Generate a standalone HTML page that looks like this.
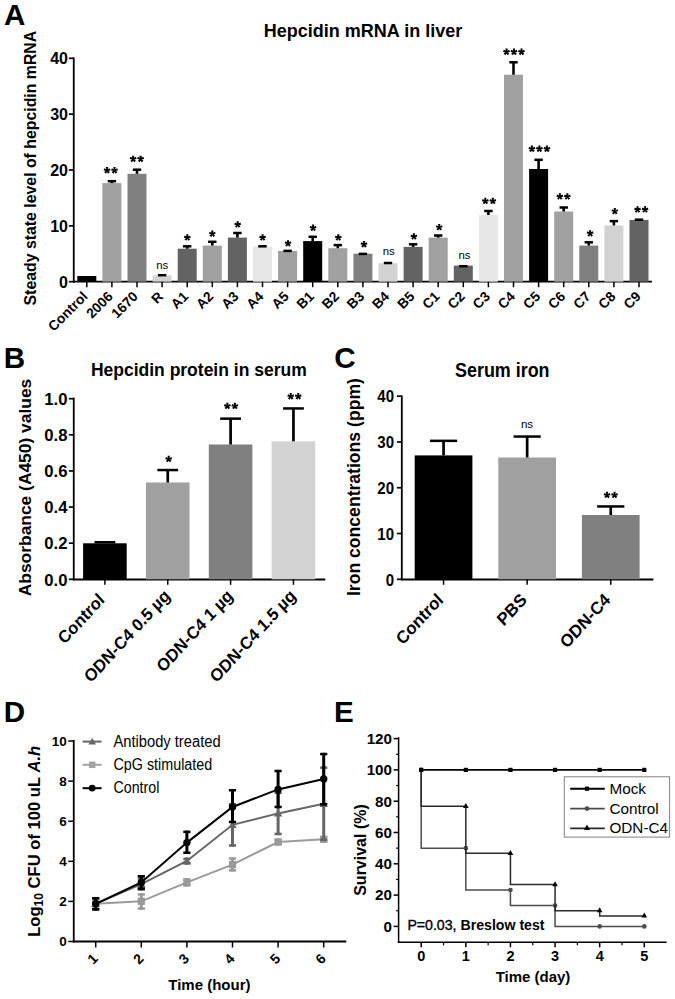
<!DOCTYPE html>
<html><head><meta charset="utf-8"><title>Figure</title>
<style>
html,body{margin:0;padding:0;background:#fff;}
svg{display:block;font-family:"Liberation Sans",sans-serif;}
</style></head><body>
<svg width="675" height="999" viewBox="0 0 675 999" font-family="Liberation Sans, sans-serif">
<rect width="675" height="999" fill="#ffffff"/>
<text x="4" y="24.6"  font-size="29.6" font-weight="bold" text-anchor="start" fill="#000" >A</text>
<text x="3.8" y="367.7"  font-size="29.6" font-weight="bold" text-anchor="start" fill="#000" >B</text>
<text x="334.3" y="367.7"  font-size="29.6" font-weight="bold" text-anchor="start" fill="#000" >C</text>
<text x="3.8" y="721.5"  font-size="29.6" font-weight="bold" text-anchor="start" fill="#000" >D</text>
<text x="334" y="721.6"  font-size="29.6" font-weight="bold" text-anchor="start" fill="#000" >E</text>
<line x1="73.75" y1="57.4" x2="73.75" y2="282.59999999999997" stroke="#000" stroke-width="1.8" stroke-linecap="butt"/>
<line x1="72.85" y1="281.7" x2="652" y2="281.7" stroke="#000" stroke-width="1.8" stroke-linecap="butt"/>
<line x1="68.85" y1="281.7" x2="73.75" y2="281.7" stroke="#000" stroke-width="1.7" stroke-linecap="butt"/>
<text x="67.95" y="287.8"  font-size="16" font-weight="bold" text-anchor="end" fill="#000" >0</text>
<line x1="68.85" y1="225.85" x2="73.75" y2="225.85" stroke="#000" stroke-width="1.7" stroke-linecap="butt"/>
<text x="67.95" y="231.95"  font-size="16" font-weight="bold" text-anchor="end" fill="#000" >10</text>
<line x1="68.85" y1="170.0" x2="73.75" y2="170.0" stroke="#000" stroke-width="1.7" stroke-linecap="butt"/>
<text x="67.95" y="176.1"  font-size="16" font-weight="bold" text-anchor="end" fill="#000" >20</text>
<line x1="68.85" y1="114.14999999999998" x2="73.75" y2="114.14999999999998" stroke="#000" stroke-width="1.7" stroke-linecap="butt"/>
<text x="67.95" y="120.24999999999997"  font-size="16" font-weight="bold" text-anchor="end" fill="#000" >30</text>
<line x1="68.85" y1="58.29999999999998" x2="73.75" y2="58.29999999999998" stroke="#000" stroke-width="1.7" stroke-linecap="butt"/>
<text x="67.95" y="64.39999999999998"  font-size="16" font-weight="bold" text-anchor="end" fill="#000" >40</text>
<text x="363" y="37.2"  font-size="18" font-weight="bold" text-anchor="middle" fill="#000" >Hepcidin mRNA in liver</text>
<text x="0" y="0" transform="translate(36.4,168.1) rotate(-90)" font-size="15.85" font-weight="bold" text-anchor="middle" fill="#000" >Steady state level of hepcidin mRNA</text>
<rect x="77.30" y="276.00" width="19.00" height="5.70" fill="#000000"/>
<line x1="86.8" y1="281.7" x2="86.8" y2="287.2" stroke="#000" stroke-width="1.5" stroke-linecap="butt"/>
<text x="0" y="0" transform="translate(88.5,297.4) rotate(-45)" font-size="13.8" font-weight="bold" text-anchor="end" fill="#000" >Control</text>
<rect x="102.40" y="183.10" width="19.00" height="98.60" fill="#a0a0a0"/>
<line x1="111.9" y1="181.0" x2="111.9" y2="183.1" stroke="#000" stroke-width="2.6" stroke-linecap="butt"/>
<line x1="107.7" y1="181.2" x2="116.10000000000001" y2="181.2" stroke="#000" stroke-width="2.5" stroke-linecap="butt"/>
<line x1="111.9" y1="281.7" x2="111.9" y2="287.2" stroke="#000" stroke-width="1.5" stroke-linecap="butt"/>
<text x="0" y="0" transform="translate(113.64500000000001,297.4) rotate(-45)" font-size="13.8" font-weight="bold" text-anchor="end" fill="#000" >2006</text>
<path d="M107.70,170.35 L108.20,167.10 L105.90,167.10 L106.40,170.35Z M107.25,170.97 L110.50,170.44 L109.79,168.25 L106.85,169.73Z M106.53,170.73 L108.03,173.65 L109.89,172.31 L107.57,169.97Z M106.53,169.97 L104.21,172.31 L106.07,173.65 L107.57,170.73Z M107.25,169.73 L104.31,168.25 L103.60,170.44 L106.85,170.97Z" fill="#000"/>
<path d="M115.20,170.35 L115.70,167.10 L113.40,167.10 L113.90,170.35Z M114.75,170.97 L118.00,170.44 L117.29,168.25 L114.35,169.73Z M114.03,170.73 L115.53,173.65 L117.39,172.31 L115.07,169.97Z M114.03,169.97 L111.71,172.31 L113.57,173.65 L115.07,170.73Z M114.75,169.73 L111.81,168.25 L111.10,170.44 L114.35,170.97Z" fill="#000"/>
<rect x="127.50" y="173.80" width="19.00" height="107.90" fill="#808080"/>
<line x1="137.0" y1="169.5" x2="137.0" y2="173.8" stroke="#000" stroke-width="2.6" stroke-linecap="butt"/>
<line x1="132.8" y1="169.7" x2="141.2" y2="169.7" stroke="#000" stroke-width="2.5" stroke-linecap="butt"/>
<line x1="137.0" y1="281.7" x2="137.0" y2="287.2" stroke="#000" stroke-width="1.5" stroke-linecap="butt"/>
<text x="0" y="0" transform="translate(138.79,297.4) rotate(-45)" font-size="13.8" font-weight="bold" text-anchor="end" fill="#000" >1670</text>
<path d="M133.80,158.95 L134.30,155.70 L132.00,155.70 L132.50,158.95Z M133.35,159.57 L136.60,159.04 L135.89,156.85 L132.95,158.33Z M132.63,159.33 L134.13,162.25 L135.99,160.91 L133.67,158.57Z M132.63,158.57 L130.31,160.91 L132.17,162.25 L133.67,159.33Z M133.35,158.33 L130.41,156.85 L129.70,159.04 L132.95,159.57Z" fill="#000"/>
<path d="M141.30,158.95 L141.80,155.70 L139.50,155.70 L140.00,158.95Z M140.85,159.57 L144.10,159.04 L143.39,156.85 L140.45,158.33Z M140.13,159.33 L141.63,162.25 L143.49,160.91 L141.17,158.57Z M140.13,158.57 L137.81,160.91 L139.67,162.25 L141.17,159.33Z M140.85,158.33 L137.91,156.85 L137.20,159.04 L140.45,159.57Z" fill="#000"/>
<rect x="152.60" y="275.40" width="19.00" height="6.30" fill="#d2d2d2"/>
<line x1="157.90000000000003" y1="275.2" x2="166.3" y2="275.2" stroke="#000" stroke-width="2.5" stroke-linecap="butt"/>
<line x1="162.10000000000002" y1="281.7" x2="162.10000000000002" y2="287.2" stroke="#000" stroke-width="1.5" stroke-linecap="butt"/>
<text x="0" y="0" transform="translate(163.935,297.4) rotate(-45)" font-size="13.8" font-weight="bold" text-anchor="end" fill="#000" >R</text>
<text x="162.2" y="269"  font-size="11.4"  text-anchor="middle" fill="#000" >ns</text>
<rect x="177.70" y="248.70" width="19.00" height="33.00" fill="#636363"/>
<line x1="187.2" y1="246.1" x2="187.2" y2="248.7" stroke="#000" stroke-width="2.6" stroke-linecap="butt"/>
<line x1="183.0" y1="246.29999999999998" x2="191.39999999999998" y2="246.29999999999998" stroke="#000" stroke-width="2.5" stroke-linecap="butt"/>
<line x1="187.2" y1="281.7" x2="187.2" y2="287.2" stroke="#000" stroke-width="1.5" stroke-linecap="butt"/>
<text x="0" y="0" transform="translate(189.07999999999998,297.4) rotate(-45)" font-size="13.8" font-weight="bold" text-anchor="end" fill="#000" >A1</text>
<path d="M187.95,237.55 L188.45,234.30 L186.15,234.30 L186.65,237.55Z M187.50,238.17 L190.75,237.64 L190.04,235.45 L187.10,236.93Z M186.78,237.93 L188.28,240.85 L190.14,239.51 L187.82,237.17Z M186.78,237.17 L184.46,239.51 L186.32,240.85 L187.82,237.93Z M187.50,236.93 L184.56,235.45 L183.85,237.64 L187.10,238.17Z" fill="#000"/>
<rect x="202.80" y="245.60" width="19.00" height="36.10" fill="#a0a0a0"/>
<line x1="212.3" y1="241.6" x2="212.3" y2="245.6" stroke="#000" stroke-width="2.6" stroke-linecap="butt"/>
<line x1="208.10000000000002" y1="241.79999999999998" x2="216.5" y2="241.79999999999998" stroke="#000" stroke-width="2.5" stroke-linecap="butt"/>
<line x1="212.3" y1="281.7" x2="212.3" y2="287.2" stroke="#000" stroke-width="1.5" stroke-linecap="butt"/>
<text x="0" y="0" transform="translate(214.225,297.4) rotate(-45)" font-size="13.8" font-weight="bold" text-anchor="end" fill="#000" >A2</text>
<path d="M212.95,233.75 L213.45,230.50 L211.15,230.50 L211.65,233.75Z M212.50,234.37 L215.75,233.84 L215.04,231.65 L212.10,233.13Z M211.78,234.13 L213.28,237.05 L215.14,235.71 L212.82,233.37Z M211.78,233.37 L209.46,235.71 L211.32,237.05 L212.82,234.13Z M212.50,233.13 L209.56,231.65 L208.85,233.84 L212.10,234.37Z" fill="#000"/>
<rect x="227.90" y="237.60" width="19.00" height="44.10" fill="#636363"/>
<line x1="237.40000000000003" y1="232.8" x2="237.40000000000003" y2="237.6" stroke="#000" stroke-width="2.6" stroke-linecap="butt"/>
<line x1="233.20000000000005" y1="233.0" x2="241.60000000000002" y2="233.0" stroke="#000" stroke-width="2.5" stroke-linecap="butt"/>
<line x1="237.40000000000003" y1="281.7" x2="237.40000000000003" y2="287.2" stroke="#000" stroke-width="1.5" stroke-linecap="butt"/>
<text x="0" y="0" transform="translate(239.37000000000003,297.4) rotate(-45)" font-size="13.8" font-weight="bold" text-anchor="end" fill="#000" >A3</text>
<path d="M238.35,224.55 L238.85,221.30 L236.55,221.30 L237.05,224.55Z M237.90,225.17 L241.15,224.64 L240.44,222.45 L237.50,223.93Z M237.18,224.93 L238.68,227.85 L240.54,226.51 L238.22,224.17Z M237.18,224.17 L234.86,226.51 L236.72,227.85 L238.22,224.93Z M237.90,223.93 L234.96,222.45 L234.25,224.64 L237.50,225.17Z" fill="#000"/>
<rect x="253.00" y="246.60" width="19.00" height="35.10" fill="#e6e6e6"/>
<line x1="258.3" y1="246.29999999999998" x2="266.7" y2="246.29999999999998" stroke="#000" stroke-width="2.5" stroke-linecap="butt"/>
<line x1="262.5" y1="281.7" x2="262.5" y2="287.2" stroke="#000" stroke-width="1.5" stroke-linecap="butt"/>
<text x="0" y="0" transform="translate(264.515,297.4) rotate(-45)" font-size="13.8" font-weight="bold" text-anchor="end" fill="#000" >A4</text>
<path d="M263.25,237.55 L263.75,234.30 L261.45,234.30 L261.95,237.55Z M262.80,238.17 L266.05,237.64 L265.34,235.45 L262.40,236.93Z M262.08,237.93 L263.58,240.85 L265.44,239.51 L263.12,237.17Z M262.08,237.17 L259.76,239.51 L261.62,240.85 L263.12,237.93Z M262.80,236.93 L259.86,235.45 L259.15,237.64 L262.40,238.17Z" fill="#000"/>
<rect x="278.10" y="250.90" width="19.00" height="30.80" fill="#a0a0a0"/>
<line x1="283.40000000000003" y1="250.89999999999998" x2="291.8" y2="250.89999999999998" stroke="#000" stroke-width="2.5" stroke-linecap="butt"/>
<line x1="287.6" y1="281.7" x2="287.6" y2="287.2" stroke="#000" stroke-width="1.5" stroke-linecap="butt"/>
<text x="0" y="0" transform="translate(289.66,297.4) rotate(-45)" font-size="13.8" font-weight="bold" text-anchor="end" fill="#000" >A5</text>
<path d="M288.65,243.45 L289.15,240.20 L286.85,240.20 L287.35,243.45Z M288.20,244.07 L291.45,243.54 L290.74,241.35 L287.80,242.83Z M287.48,243.83 L288.98,246.75 L290.84,245.41 L288.52,243.07Z M287.48,243.07 L285.16,245.41 L287.02,246.75 L288.52,243.83Z M288.20,242.83 L285.26,241.35 L284.55,243.54 L287.80,244.07Z" fill="#000"/>
<rect x="303.20" y="241.10" width="19.00" height="40.60" fill="#000000"/>
<line x1="312.7" y1="236.6" x2="312.7" y2="241.1" stroke="#000" stroke-width="2.6" stroke-linecap="butt"/>
<line x1="308.5" y1="236.79999999999998" x2="316.9" y2="236.79999999999998" stroke="#000" stroke-width="2.5" stroke-linecap="butt"/>
<line x1="312.7" y1="281.7" x2="312.7" y2="287.2" stroke="#000" stroke-width="1.5" stroke-linecap="butt"/>
<text x="0" y="0" transform="translate(314.80499999999995,297.4) rotate(-45)" font-size="13.8" font-weight="bold" text-anchor="end" fill="#000" >B1</text>
<path d="M313.75,227.85 L314.25,224.60 L311.95,224.60 L312.45,227.85Z M313.30,228.47 L316.55,227.94 L315.84,225.75 L312.90,227.23Z M312.58,228.23 L314.08,231.15 L315.94,229.81 L313.62,227.47Z M312.58,227.47 L310.26,229.81 L312.12,231.15 L313.62,228.23Z M313.30,227.23 L310.36,225.75 L309.65,227.94 L312.90,228.47Z" fill="#000"/>
<rect x="328.30" y="248.20" width="19.00" height="33.50" fill="#a0a0a0"/>
<line x1="337.8" y1="244.9" x2="337.8" y2="248.2" stroke="#000" stroke-width="2.6" stroke-linecap="butt"/>
<line x1="333.6" y1="245.1" x2="342.0" y2="245.1" stroke="#000" stroke-width="2.5" stroke-linecap="butt"/>
<line x1="337.8" y1="281.7" x2="337.8" y2="287.2" stroke="#000" stroke-width="1.5" stroke-linecap="butt"/>
<text x="0" y="0" transform="translate(339.95,297.4) rotate(-45)" font-size="13.8" font-weight="bold" text-anchor="end" fill="#000" >B2</text>
<path d="M338.95,237.55 L339.45,234.30 L337.15,234.30 L337.65,237.55Z M338.50,238.17 L341.75,237.64 L341.04,235.45 L338.10,236.93Z M337.78,237.93 L339.28,240.85 L341.14,239.51 L338.82,237.17Z M337.78,237.17 L335.46,239.51 L337.32,240.85 L338.82,237.93Z M338.50,236.93 L335.56,235.45 L334.85,237.64 L338.10,238.17Z" fill="#000"/>
<rect x="353.40" y="253.70" width="19.00" height="28.00" fill="#808080"/>
<line x1="358.70000000000005" y1="253.89999999999998" x2="367.1" y2="253.89999999999998" stroke="#000" stroke-width="2.5" stroke-linecap="butt"/>
<line x1="362.90000000000003" y1="281.7" x2="362.90000000000003" y2="287.2" stroke="#000" stroke-width="1.5" stroke-linecap="butt"/>
<text x="0" y="0" transform="translate(365.095,297.4) rotate(-45)" font-size="13.8" font-weight="bold" text-anchor="end" fill="#000" >B3</text>
<path d="M364.65,244.35 L365.15,241.10 L362.85,241.10 L363.35,244.35Z M364.20,244.97 L367.45,244.44 L366.74,242.25 L363.80,243.73Z M363.48,244.73 L364.98,247.65 L366.84,246.31 L364.52,243.97Z M363.48,243.97 L361.16,246.31 L363.02,247.65 L364.52,244.73Z M364.20,243.73 L361.26,242.25 L360.55,244.44 L363.80,244.97Z" fill="#000"/>
<rect x="378.50" y="263.30" width="19.00" height="18.40" fill="#d2d2d2"/>
<line x1="383.80000000000007" y1="263.0" x2="392.20000000000005" y2="263.0" stroke="#000" stroke-width="2.5" stroke-linecap="butt"/>
<line x1="388.00000000000006" y1="281.7" x2="388.00000000000006" y2="287.2" stroke="#000" stroke-width="1.5" stroke-linecap="butt"/>
<text x="0" y="0" transform="translate(390.24000000000007,297.4) rotate(-45)" font-size="13.8" font-weight="bold" text-anchor="end" fill="#000" >B4</text>
<text x="388.8" y="255.2"  font-size="11.4"  text-anchor="middle" fill="#000" >ns</text>
<rect x="403.60" y="246.90" width="19.00" height="34.80" fill="#636363"/>
<line x1="413.1" y1="244.1" x2="413.1" y2="246.9" stroke="#000" stroke-width="2.6" stroke-linecap="butt"/>
<line x1="408.90000000000003" y1="244.29999999999998" x2="417.3" y2="244.29999999999998" stroke="#000" stroke-width="2.5" stroke-linecap="butt"/>
<line x1="413.1" y1="281.7" x2="413.1" y2="287.2" stroke="#000" stroke-width="1.5" stroke-linecap="butt"/>
<text x="0" y="0" transform="translate(415.385,297.4) rotate(-45)" font-size="13.8" font-weight="bold" text-anchor="end" fill="#000" >B5</text>
<path d="M414.55,236.55 L415.05,233.30 L412.75,233.30 L413.25,236.55Z M414.10,237.17 L417.35,236.64 L416.64,234.45 L413.70,235.93Z M413.38,236.93 L414.88,239.85 L416.74,238.51 L414.42,236.17Z M413.38,236.17 L411.06,238.51 L412.92,239.85 L414.42,236.93Z M414.10,235.93 L411.16,234.45 L410.45,236.64 L413.70,237.17Z" fill="#000"/>
<rect x="428.70" y="237.60" width="19.00" height="44.10" fill="#a0a0a0"/>
<line x1="438.20000000000005" y1="235.3" x2="438.20000000000005" y2="237.6" stroke="#000" stroke-width="2.6" stroke-linecap="butt"/>
<line x1="434.00000000000006" y1="235.5" x2="442.40000000000003" y2="235.5" stroke="#000" stroke-width="2.5" stroke-linecap="butt"/>
<line x1="438.20000000000005" y1="281.7" x2="438.20000000000005" y2="287.2" stroke="#000" stroke-width="1.5" stroke-linecap="butt"/>
<text x="0" y="0" transform="translate(440.53000000000003,297.4) rotate(-45)" font-size="13.8" font-weight="bold" text-anchor="end" fill="#000" >C1</text>
<path d="M439.85,227.25 L440.35,224.00 L438.05,224.00 L438.55,227.25Z M439.40,227.87 L442.65,227.34 L441.94,225.15 L439.00,226.63Z M438.68,227.63 L440.18,230.55 L442.04,229.21 L439.72,226.87Z M438.68,226.87 L436.36,229.21 L438.22,230.55 L439.72,227.63Z M439.40,226.63 L436.46,225.15 L435.75,227.34 L439.00,227.87Z" fill="#000"/>
<rect x="453.80" y="265.60" width="19.00" height="16.10" fill="#636363"/>
<line x1="459.1" y1="266.2" x2="467.5" y2="266.2" stroke="#000" stroke-width="2.5" stroke-linecap="butt"/>
<line x1="463.3" y1="281.7" x2="463.3" y2="287.2" stroke="#000" stroke-width="1.5" stroke-linecap="butt"/>
<text x="0" y="0" transform="translate(465.675,297.4) rotate(-45)" font-size="13.8" font-weight="bold" text-anchor="end" fill="#000" >C2</text>
<text x="464.4" y="258.5"  font-size="11.4"  text-anchor="middle" fill="#000" >ns</text>
<rect x="478.90" y="215.00" width="19.00" height="66.70" fill="#e6e6e6"/>
<line x1="488.40000000000003" y1="210.8" x2="488.40000000000003" y2="215.0" stroke="#000" stroke-width="2.6" stroke-linecap="butt"/>
<line x1="484.20000000000005" y1="211.0" x2="492.6" y2="211.0" stroke="#000" stroke-width="2.5" stroke-linecap="butt"/>
<line x1="488.40000000000003" y1="281.7" x2="488.40000000000003" y2="287.2" stroke="#000" stroke-width="1.5" stroke-linecap="butt"/>
<text x="0" y="0" transform="translate(490.82000000000005,297.4) rotate(-45)" font-size="13.8" font-weight="bold" text-anchor="end" fill="#000" >C3</text>
<path d="M486.00,201.05 L486.50,197.80 L484.20,197.80 L484.70,201.05Z M485.55,201.67 L488.80,201.14 L488.09,198.95 L485.15,200.43Z M484.83,201.43 L486.33,204.35 L488.19,203.01 L485.87,200.67Z M484.83,200.67 L482.51,203.01 L484.37,204.35 L485.87,201.43Z M485.55,200.43 L482.61,198.95 L481.90,201.14 L485.15,201.67Z" fill="#000"/>
<path d="M493.50,201.05 L494.00,197.80 L491.70,197.80 L492.20,201.05Z M493.05,201.67 L496.30,201.14 L495.59,198.95 L492.65,200.43Z M492.33,201.43 L493.83,204.35 L495.69,203.01 L493.37,200.67Z M492.33,200.67 L490.01,203.01 L491.87,204.35 L493.37,201.43Z M493.05,200.43 L490.11,198.95 L489.40,201.14 L492.65,201.67Z" fill="#000"/>
<rect x="504.00" y="74.70" width="19.00" height="207.00" fill="#a0a0a0"/>
<line x1="513.5" y1="62.1" x2="513.5" y2="74.7" stroke="#000" stroke-width="2.6" stroke-linecap="butt"/>
<line x1="509.3" y1="62.300000000000004" x2="517.7" y2="62.300000000000004" stroke="#000" stroke-width="2.5" stroke-linecap="butt"/>
<line x1="513.5" y1="281.7" x2="513.5" y2="287.2" stroke="#000" stroke-width="1.5" stroke-linecap="butt"/>
<text x="0" y="0" transform="translate(515.965,297.4) rotate(-45)" font-size="13.8" font-weight="bold" text-anchor="end" fill="#000" >C4</text>
<path d="M507.15,51.85 L507.65,48.60 L505.35,48.60 L505.85,51.85Z M506.70,52.47 L509.95,51.94 L509.24,49.75 L506.30,51.23Z M505.98,52.23 L507.48,55.15 L509.34,53.81 L507.02,51.47Z M505.98,51.47 L503.66,53.81 L505.52,55.15 L507.02,52.23Z M506.70,51.23 L503.76,49.75 L503.05,51.94 L506.30,52.47Z" fill="#000"/>
<path d="M514.65,51.85 L515.15,48.60 L512.85,48.60 L513.35,51.85Z M514.20,52.47 L517.45,51.94 L516.74,49.75 L513.80,51.23Z M513.48,52.23 L514.98,55.15 L516.84,53.81 L514.52,51.47Z M513.48,51.47 L511.16,53.81 L513.02,55.15 L514.52,52.23Z M514.20,51.23 L511.26,49.75 L510.55,51.94 L513.80,52.47Z" fill="#000"/>
<path d="M522.15,51.85 L522.65,48.60 L520.35,48.60 L520.85,51.85Z M521.70,52.47 L524.95,51.94 L524.24,49.75 L521.30,51.23Z M520.98,52.23 L522.48,55.15 L524.34,53.81 L522.02,51.47Z M520.98,51.47 L518.66,53.81 L520.52,55.15 L522.02,52.23Z M521.70,51.23 L518.76,49.75 L518.05,51.94 L521.30,52.47Z" fill="#000"/>
<rect x="529.10" y="169.00" width="19.00" height="112.70" fill="#000000"/>
<line x1="538.6" y1="159.6" x2="538.6" y2="169.0" stroke="#000" stroke-width="2.6" stroke-linecap="butt"/>
<line x1="534.4" y1="159.79999999999998" x2="542.8000000000001" y2="159.79999999999998" stroke="#000" stroke-width="2.5" stroke-linecap="butt"/>
<line x1="538.6" y1="281.7" x2="538.6" y2="287.2" stroke="#000" stroke-width="1.5" stroke-linecap="butt"/>
<text x="0" y="0" transform="translate(541.11,297.4) rotate(-45)" font-size="13.8" font-weight="bold" text-anchor="end" fill="#000" >C5</text>
<path d="M532.55,148.85 L533.05,145.60 L530.75,145.60 L531.25,148.85Z M532.10,149.47 L535.35,148.94 L534.64,146.75 L531.70,148.23Z M531.38,149.23 L532.88,152.15 L534.74,150.81 L532.42,148.47Z M531.38,148.47 L529.06,150.81 L530.92,152.15 L532.42,149.23Z M532.10,148.23 L529.16,146.75 L528.45,148.94 L531.70,149.47Z" fill="#000"/>
<path d="M540.05,148.85 L540.55,145.60 L538.25,145.60 L538.75,148.85Z M539.60,149.47 L542.85,148.94 L542.14,146.75 L539.20,148.23Z M538.88,149.23 L540.38,152.15 L542.24,150.81 L539.92,148.47Z M538.88,148.47 L536.56,150.81 L538.42,152.15 L539.92,149.23Z M539.60,148.23 L536.66,146.75 L535.95,148.94 L539.20,149.47Z" fill="#000"/>
<path d="M547.55,148.85 L548.05,145.60 L545.75,145.60 L546.25,148.85Z M547.10,149.47 L550.35,148.94 L549.64,146.75 L546.70,148.23Z M546.38,149.23 L547.88,152.15 L549.74,150.81 L547.42,148.47Z M546.38,148.47 L544.06,150.81 L545.92,152.15 L547.42,149.23Z M547.10,148.23 L544.16,146.75 L543.45,148.94 L546.70,149.47Z" fill="#000"/>
<rect x="554.20" y="211.50" width="19.00" height="70.20" fill="#a0a0a0"/>
<line x1="563.7" y1="207.3" x2="563.7" y2="211.5" stroke="#000" stroke-width="2.6" stroke-linecap="butt"/>
<line x1="559.5" y1="207.5" x2="567.9000000000001" y2="207.5" stroke="#000" stroke-width="2.5" stroke-linecap="butt"/>
<line x1="563.7" y1="281.7" x2="563.7" y2="287.2" stroke="#000" stroke-width="1.5" stroke-linecap="butt"/>
<text x="0" y="0" transform="translate(566.2550000000001,297.4) rotate(-45)" font-size="13.8" font-weight="bold" text-anchor="end" fill="#000" >C6</text>
<path d="M560.50,196.55 L561.00,193.30 L558.70,193.30 L559.20,196.55Z M560.05,197.17 L563.30,196.64 L562.59,194.45 L559.65,195.93Z M559.33,196.93 L560.83,199.85 L562.69,198.51 L560.37,196.17Z M559.33,196.17 L557.01,198.51 L558.87,199.85 L560.37,196.93Z M560.05,195.93 L557.11,194.45 L556.40,196.64 L559.65,197.17Z" fill="#000"/>
<path d="M568.00,196.55 L568.50,193.30 L566.20,193.30 L566.70,196.55Z M567.55,197.17 L570.80,196.64 L570.09,194.45 L567.15,195.93Z M566.83,196.93 L568.33,199.85 L570.19,198.51 L567.87,196.17Z M566.83,196.17 L564.51,198.51 L566.37,199.85 L567.87,196.93Z M567.55,195.93 L564.61,194.45 L563.90,196.64 L567.15,197.17Z" fill="#000"/>
<rect x="579.30" y="245.60" width="19.00" height="36.10" fill="#808080"/>
<line x1="588.8" y1="242.1" x2="588.8" y2="245.6" stroke="#000" stroke-width="2.6" stroke-linecap="butt"/>
<line x1="584.5999999999999" y1="242.29999999999998" x2="593.0" y2="242.29999999999998" stroke="#000" stroke-width="2.5" stroke-linecap="butt"/>
<line x1="588.8" y1="281.7" x2="588.8" y2="287.2" stroke="#000" stroke-width="1.5" stroke-linecap="butt"/>
<text x="0" y="0" transform="translate(591.4,297.4) rotate(-45)" font-size="13.8" font-weight="bold" text-anchor="end" fill="#000" >C7</text>
<path d="M590.75,233.45 L591.25,230.20 L588.95,230.20 L589.45,233.45Z M590.30,234.07 L593.55,233.54 L592.84,231.35 L589.90,232.83Z M589.58,233.83 L591.08,236.75 L592.94,235.41 L590.62,233.07Z M589.58,233.07 L587.26,235.41 L589.12,236.75 L590.62,233.83Z M590.30,232.83 L587.36,231.35 L586.65,233.54 L589.90,234.07Z" fill="#000"/>
<rect x="604.40" y="225.40" width="19.00" height="56.30" fill="#d2d2d2"/>
<line x1="613.9" y1="220.9" x2="613.9" y2="225.4" stroke="#000" stroke-width="2.6" stroke-linecap="butt"/>
<line x1="609.6999999999999" y1="221.1" x2="618.1" y2="221.1" stroke="#000" stroke-width="2.5" stroke-linecap="butt"/>
<line x1="613.9" y1="281.7" x2="613.9" y2="287.2" stroke="#000" stroke-width="1.5" stroke-linecap="butt"/>
<text x="0" y="0" transform="translate(616.5450000000001,297.4) rotate(-45)" font-size="13.8" font-weight="bold" text-anchor="end" fill="#000" >C8</text>
<path d="M615.45,211.25 L615.95,208.00 L613.65,208.00 L614.15,211.25Z M615.00,211.87 L618.25,211.34 L617.54,209.15 L614.60,210.63Z M614.28,211.63 L615.78,214.55 L617.64,213.21 L615.32,210.87Z M614.28,210.87 L611.96,213.21 L613.82,214.55 L615.32,211.63Z M615.00,210.63 L612.06,209.15 L611.35,211.34 L614.60,211.87Z" fill="#000"/>
<rect x="629.50" y="219.90" width="19.00" height="61.80" fill="#636363"/>
<line x1="634.8" y1="219.7" x2="643.2" y2="219.7" stroke="#000" stroke-width="2.5" stroke-linecap="butt"/>
<line x1="639.0" y1="281.7" x2="639.0" y2="287.2" stroke="#000" stroke-width="1.5" stroke-linecap="butt"/>
<text x="0" y="0" transform="translate(641.69,297.4) rotate(-45)" font-size="13.8" font-weight="bold" text-anchor="end" fill="#000" >C9</text>
<path d="M638.20,209.55 L638.70,206.30 L636.40,206.30 L636.90,209.55Z M637.75,210.17 L641.00,209.64 L640.29,207.45 L637.35,208.93Z M637.03,209.93 L638.53,212.85 L640.39,211.51 L638.07,209.17Z M637.03,209.17 L634.71,211.51 L636.57,212.85 L638.07,209.93Z M637.75,208.93 L634.81,207.45 L634.10,209.64 L637.35,210.17Z" fill="#000"/>
<path d="M645.70,209.55 L646.20,206.30 L643.90,206.30 L644.40,209.55Z M645.25,210.17 L648.50,209.64 L647.79,207.45 L644.85,208.93Z M644.53,209.93 L646.03,212.85 L647.89,211.51 L645.57,209.17Z M644.53,209.17 L642.21,211.51 L644.07,212.85 L645.57,209.93Z M645.25,208.93 L642.31,207.45 L641.60,209.64 L644.85,210.17Z" fill="#000"/>
<line x1="73.75" y1="397.6" x2="73.75" y2="580.1999999999999" stroke="#000" stroke-width="1.8" stroke-linecap="butt"/>
<line x1="72.85" y1="579.5" x2="325.3" y2="579.5" stroke="#000" stroke-width="2.0" stroke-linecap="butt"/>
<line x1="68.85" y1="579.3" x2="73.75" y2="579.3" stroke="#000" stroke-width="1.7" stroke-linecap="butt"/>
<text x="67.45" y="585.5"  font-size="16.7" font-weight="bold" text-anchor="end" fill="#000" >0.0</text>
<line x1="68.85" y1="543.18" x2="73.75" y2="543.18" stroke="#000" stroke-width="1.7" stroke-linecap="butt"/>
<text x="67.45" y="549.38"  font-size="16.7" font-weight="bold" text-anchor="end" fill="#000" >0.2</text>
<line x1="68.85" y1="507.05999999999995" x2="73.75" y2="507.05999999999995" stroke="#000" stroke-width="1.7" stroke-linecap="butt"/>
<text x="67.45" y="513.26"  font-size="16.7" font-weight="bold" text-anchor="end" fill="#000" >0.4</text>
<line x1="68.85" y1="470.93999999999994" x2="73.75" y2="470.93999999999994" stroke="#000" stroke-width="1.7" stroke-linecap="butt"/>
<text x="67.45" y="477.13999999999993"  font-size="16.7" font-weight="bold" text-anchor="end" fill="#000" >0.6</text>
<line x1="68.85" y1="434.81999999999994" x2="73.75" y2="434.81999999999994" stroke="#000" stroke-width="1.7" stroke-linecap="butt"/>
<text x="67.45" y="441.0199999999999"  font-size="16.7" font-weight="bold" text-anchor="end" fill="#000" >0.8</text>
<line x1="68.85" y1="398.69999999999993" x2="73.75" y2="398.69999999999993" stroke="#000" stroke-width="1.7" stroke-linecap="butt"/>
<text x="67.45" y="404.8999999999999"  font-size="16.7" font-weight="bold" text-anchor="end" fill="#000" >1.0</text>
<text x="0" y="0" transform="translate(198.8,376.2) scale(0.931,1)" font-size="18.8" font-weight="bold" text-anchor="middle" fill="#000" >Hepcidin protein in serum</text>
<text x="0" y="0" transform="translate(31.4,487.5) rotate(-90)" font-size="17.4" font-weight="bold" text-anchor="middle" fill="#000" >Absorbance (A450) values</text>
<rect x="83.10" y="543.30" width="43.60" height="36.00" fill="#000000"/>
<line x1="94.49999999999999" y1="542.25" x2="115.3" y2="542.25" stroke="#000" stroke-width="2.5" stroke-linecap="butt"/>
<line x1="104.89999999999999" y1="579.3" x2="104.89999999999999" y2="584.8" stroke="#000" stroke-width="1.5" stroke-linecap="butt"/>
<text x="0" y="0" transform="translate(105.49999999999999,600.9) scale(1,1.08) rotate(-45)" font-size="16.3" font-weight="bold" text-anchor="end" fill="#000" >Control</text>
<rect x="145.95" y="482.50" width="43.60" height="96.80" fill="#a0a0a0"/>
<line x1="167.75" y1="469.8" x2="167.75" y2="482.5" stroke="#000" stroke-width="2.7" stroke-linecap="butt"/>
<line x1="157.35" y1="470.05" x2="178.15" y2="470.05" stroke="#000" stroke-width="2.5" stroke-linecap="butt"/>
<line x1="167.75" y1="579.3" x2="167.75" y2="584.8" stroke="#000" stroke-width="1.5" stroke-linecap="butt"/>
<text x="0" y="0" transform="translate(171.05,596.9) scale(1,1.08) rotate(-45)" font-size="16.3" font-weight="bold" text-anchor="end" fill="#000" >ODN-C4 0.5 µg</text>
<path d="M169.35,459.05 L169.85,455.80 L167.55,455.80 L168.05,459.05Z M168.90,459.67 L172.15,459.14 L171.44,456.95 L168.50,458.43Z M168.18,459.43 L169.68,462.35 L171.54,461.01 L169.22,458.67Z M168.18,458.67 L165.86,461.01 L167.72,462.35 L169.22,459.43Z M168.90,458.43 L165.96,456.95 L165.25,459.14 L168.50,459.67Z" fill="#000"/>
<rect x="208.80" y="444.50" width="43.60" height="134.80" fill="#808080"/>
<line x1="230.60000000000002" y1="418.4" x2="230.60000000000002" y2="444.5" stroke="#000" stroke-width="2.7" stroke-linecap="butt"/>
<line x1="220.20000000000002" y1="418.65" x2="241.00000000000003" y2="418.65" stroke="#000" stroke-width="2.5" stroke-linecap="butt"/>
<line x1="230.60000000000002" y1="579.3" x2="230.60000000000002" y2="584.8" stroke="#000" stroke-width="1.5" stroke-linecap="butt"/>
<text x="0" y="0" transform="translate(233.90000000000003,596.9) scale(1,1.08) rotate(-45)" font-size="16.3" font-weight="bold" text-anchor="end" fill="#000" >ODN-C4 1 µg</text>
<path d="M228.00,406.05 L228.50,402.80 L226.20,402.80 L226.70,406.05Z M227.55,406.67 L230.80,406.14 L230.09,403.95 L227.15,405.43Z M226.83,406.43 L228.33,409.35 L230.19,408.01 L227.87,405.67Z M226.83,405.67 L224.51,408.01 L226.37,409.35 L227.87,406.43Z M227.55,405.43 L224.61,403.95 L223.90,406.14 L227.15,406.67Z" fill="#000"/>
<path d="M235.50,406.05 L236.00,402.80 L233.70,402.80 L234.20,406.05Z M235.05,406.67 L238.30,406.14 L237.59,403.95 L234.65,405.43Z M234.33,406.43 L235.83,409.35 L237.69,408.01 L235.37,405.67Z M234.33,405.67 L232.01,408.01 L233.87,409.35 L235.37,406.43Z M235.05,405.43 L232.11,403.95 L231.40,406.14 L234.65,406.67Z" fill="#000"/>
<rect x="271.65" y="441.30" width="43.60" height="138.00" fill="#d2d2d2"/>
<line x1="293.45" y1="408.2" x2="293.45" y2="441.3" stroke="#000" stroke-width="2.7" stroke-linecap="butt"/>
<line x1="283.05" y1="408.45" x2="303.84999999999997" y2="408.45" stroke="#000" stroke-width="2.5" stroke-linecap="butt"/>
<line x1="293.45" y1="579.3" x2="293.45" y2="584.8" stroke="#000" stroke-width="1.5" stroke-linecap="butt"/>
<text x="0" y="0" transform="translate(296.75,596.9) scale(1,1.08) rotate(-45)" font-size="16.3" font-weight="bold" text-anchor="end" fill="#000" >ODN-C4 1.5 µg</text>
<path d="M291.40,396.35 L291.90,393.10 L289.60,393.10 L290.10,396.35Z M290.95,396.97 L294.20,396.44 L293.49,394.25 L290.55,395.73Z M290.23,396.73 L291.73,399.65 L293.59,398.31 L291.27,395.97Z M290.23,395.97 L287.91,398.31 L289.77,399.65 L291.27,396.73Z M290.95,395.73 L288.01,394.25 L287.30,396.44 L290.55,396.97Z" fill="#000"/>
<path d="M298.90,396.35 L299.40,393.10 L297.10,393.10 L297.60,396.35Z M298.45,396.97 L301.70,396.44 L300.99,394.25 L298.05,395.73Z M297.73,396.73 L299.23,399.65 L301.09,398.31 L298.77,395.97Z M297.73,395.97 L295.41,398.31 L297.27,399.65 L298.77,396.73Z M298.45,395.73 L295.51,394.25 L294.80,396.44 L298.05,396.97Z" fill="#000"/>
<line x1="401.8" y1="395.4" x2="401.8" y2="580.1999999999999" stroke="#000" stroke-width="1.8" stroke-linecap="butt"/>
<line x1="400.90000000000003" y1="579.5" x2="653.4" y2="579.5" stroke="#000" stroke-width="2.0" stroke-linecap="butt"/>
<line x1="396.90000000000003" y1="579.3" x2="401.8" y2="579.3" stroke="#000" stroke-width="1.7" stroke-linecap="butt"/>
<text x="0" y="0" transform="translate(394.0,585.5) scale(0.9,1)" font-size="16.7" font-weight="bold" text-anchor="end" fill="#000" >0</text>
<line x1="396.90000000000003" y1="533.52" x2="401.8" y2="533.52" stroke="#000" stroke-width="1.7" stroke-linecap="butt"/>
<text x="0" y="0" transform="translate(394.0,539.72) scale(0.9,1)" font-size="16.7" font-weight="bold" text-anchor="end" fill="#000" >10</text>
<line x1="396.90000000000003" y1="487.73999999999995" x2="401.8" y2="487.73999999999995" stroke="#000" stroke-width="1.7" stroke-linecap="butt"/>
<text x="0" y="0" transform="translate(394.0,493.93999999999994) scale(0.9,1)" font-size="16.7" font-weight="bold" text-anchor="end" fill="#000" >20</text>
<line x1="396.90000000000003" y1="441.9599999999999" x2="401.8" y2="441.9599999999999" stroke="#000" stroke-width="1.7" stroke-linecap="butt"/>
<text x="0" y="0" transform="translate(394.0,448.1599999999999) scale(0.9,1)" font-size="16.7" font-weight="bold" text-anchor="end" fill="#000" >30</text>
<line x1="396.90000000000003" y1="396.17999999999995" x2="401.8" y2="396.17999999999995" stroke="#000" stroke-width="1.7" stroke-linecap="butt"/>
<text x="0" y="0" transform="translate(394.0,402.37999999999994) scale(0.9,1)" font-size="16.7" font-weight="bold" text-anchor="end" fill="#000" >40</text>
<text x="0" y="0" transform="translate(502.3,376.6) scale(0.887,1)" font-size="20.2" font-weight="bold" text-anchor="middle" fill="#000" >Serum iron</text>
<text x="0" y="0" transform="translate(359.9,487.1) rotate(-90)" font-size="17.6" font-weight="bold" text-anchor="middle" fill="#000" >Iron concentrations (ppm)</text>
<rect x="414.70" y="455.40" width="57.70" height="123.90" fill="#000000"/>
<line x1="443.55" y1="440.6" x2="443.55" y2="455.4" stroke="#000" stroke-width="2.7" stroke-linecap="butt"/>
<line x1="429.95" y1="440.85" x2="457.15000000000003" y2="440.85" stroke="#000" stroke-width="2.5" stroke-linecap="butt"/>
<line x1="443.55" y1="579.3" x2="443.55" y2="584.8" stroke="#000" stroke-width="1.5" stroke-linecap="butt"/>
<text x="0" y="0" transform="translate(444.15000000000003,600.9) scale(1,1.08) rotate(-45)" font-size="16.5" font-weight="bold" text-anchor="end" fill="#000" >Control</text>
<rect x="498.30" y="457.50" width="57.70" height="121.80" fill="#a0a0a0"/>
<line x1="527.15" y1="436.3" x2="527.15" y2="457.5" stroke="#000" stroke-width="2.7" stroke-linecap="butt"/>
<line x1="513.55" y1="436.55" x2="540.75" y2="436.55" stroke="#000" stroke-width="2.5" stroke-linecap="butt"/>
<line x1="527.15" y1="579.3" x2="527.15" y2="584.8" stroke="#000" stroke-width="1.5" stroke-linecap="butt"/>
<text x="0" y="0" transform="translate(527.75,600.9) scale(1,1.08) rotate(-45)" font-size="16.5" font-weight="bold" text-anchor="end" fill="#000" >PBS</text>
<text x="527" y="427.6"  font-size="11.6"  text-anchor="middle" fill="#000" >ns</text>
<rect x="581.90" y="515.00" width="57.70" height="64.30" fill="#808080"/>
<line x1="610.75" y1="506.2" x2="610.75" y2="515.0" stroke="#000" stroke-width="2.7" stroke-linecap="butt"/>
<line x1="597.15" y1="506.45" x2="624.35" y2="506.45" stroke="#000" stroke-width="2.5" stroke-linecap="butt"/>
<line x1="610.75" y1="579.3" x2="610.75" y2="584.8" stroke="#000" stroke-width="1.5" stroke-linecap="butt"/>
<text x="0" y="0" transform="translate(611.35,600.9) scale(1,1.08) rotate(-45)" font-size="16.5" font-weight="bold" text-anchor="end" fill="#000" >ODN-C4</text>
<path d="M607.70,495.05 L608.20,491.80 L605.90,491.80 L606.40,495.05Z M607.25,495.67 L610.50,495.14 L609.79,492.95 L606.85,494.43Z M606.53,495.43 L608.03,498.35 L609.89,497.01 L607.57,494.67Z M606.53,494.67 L604.21,497.01 L606.07,498.35 L607.57,495.43Z M607.25,494.43 L604.31,492.95 L603.60,495.14 L606.85,495.67Z" fill="#000"/>
<path d="M615.20,495.05 L615.70,491.80 L613.40,491.80 L613.90,495.05Z M614.75,495.67 L618.00,495.14 L617.29,492.95 L614.35,494.43Z M614.03,495.43 L615.53,498.35 L617.39,497.01 L615.07,494.67Z M614.03,494.67 L611.71,497.01 L613.57,498.35 L615.07,495.43Z M614.75,494.43 L611.81,492.95 L611.10,495.14 L614.35,495.67Z" fill="#000"/>
<line x1="73.75" y1="740.0" x2="73.75" y2="942.5" stroke="#000" stroke-width="1.8" stroke-linecap="butt"/>
<line x1="72.85" y1="941.5" x2="346.3" y2="941.5" stroke="#000" stroke-width="2.0" stroke-linecap="butt"/>
<line x1="68.25" y1="941.5" x2="73.75" y2="941.5" stroke="#000" stroke-width="1.5" stroke-linecap="butt"/>
<text x="66.75" y="946.3"  font-size="13.5" font-weight="bold" text-anchor="end" fill="#000" >0</text>
<line x1="68.25" y1="901.4" x2="73.75" y2="901.4" stroke="#000" stroke-width="1.5" stroke-linecap="butt"/>
<text x="66.75" y="906.1999999999999"  font-size="13.5" font-weight="bold" text-anchor="end" fill="#000" >2</text>
<line x1="68.25" y1="861.3" x2="73.75" y2="861.3" stroke="#000" stroke-width="1.5" stroke-linecap="butt"/>
<text x="66.75" y="866.0999999999999"  font-size="13.5" font-weight="bold" text-anchor="end" fill="#000" >4</text>
<line x1="68.25" y1="821.2" x2="73.75" y2="821.2" stroke="#000" stroke-width="1.5" stroke-linecap="butt"/>
<text x="66.75" y="826.0"  font-size="13.5" font-weight="bold" text-anchor="end" fill="#000" >6</text>
<line x1="68.25" y1="781.1" x2="73.75" y2="781.1" stroke="#000" stroke-width="1.5" stroke-linecap="butt"/>
<text x="66.75" y="785.9"  font-size="13.5" font-weight="bold" text-anchor="end" fill="#000" >8</text>
<line x1="68.25" y1="741.0" x2="73.75" y2="741.0" stroke="#000" stroke-width="1.5" stroke-linecap="butt"/>
<text x="66.75" y="745.8"  font-size="13.5" font-weight="bold" text-anchor="end" fill="#000" >10</text>
<line x1="95.7" y1="941.5" x2="95.7" y2="947.5" stroke="#000" stroke-width="1.5" stroke-linecap="butt"/>
<text x="0" y="0" transform="translate(98.8,959.5) rotate(-45)" font-size="14" font-weight="bold" text-anchor="end" fill="#000" >1</text>
<line x1="141.3" y1="941.5" x2="141.3" y2="947.5" stroke="#000" stroke-width="1.5" stroke-linecap="butt"/>
<text x="0" y="0" transform="translate(144.4,959.5) rotate(-45)" font-size="14" font-weight="bold" text-anchor="end" fill="#000" >2</text>
<line x1="186.9" y1="941.5" x2="186.9" y2="947.5" stroke="#000" stroke-width="1.5" stroke-linecap="butt"/>
<text x="0" y="0" transform="translate(190.0,959.5) rotate(-45)" font-size="14" font-weight="bold" text-anchor="end" fill="#000" >3</text>
<line x1="232.5" y1="941.5" x2="232.5" y2="947.5" stroke="#000" stroke-width="1.5" stroke-linecap="butt"/>
<text x="0" y="0" transform="translate(235.6,959.5) rotate(-45)" font-size="14" font-weight="bold" text-anchor="end" fill="#000" >4</text>
<line x1="278.1" y1="941.5" x2="278.1" y2="947.5" stroke="#000" stroke-width="1.5" stroke-linecap="butt"/>
<text x="0" y="0" transform="translate(281.20000000000005,959.5) rotate(-45)" font-size="14" font-weight="bold" text-anchor="end" fill="#000" >5</text>
<line x1="323.7" y1="941.5" x2="323.7" y2="947.5" stroke="#000" stroke-width="1.5" stroke-linecap="butt"/>
<text x="0" y="0" transform="translate(326.8,959.5) rotate(-45)" font-size="14" font-weight="bold" text-anchor="end" fill="#000" >6</text>
<text x="209.4" y="989.6"  font-size="15" font-weight="bold" text-anchor="middle" fill="#000" >Time (hour)</text>
<text transform="translate(40,841.3) rotate(-90)" font-size="16.6" font-weight="bold" text-anchor="middle">Log<tspan font-size="12" dy="3">10</tspan><tspan dy="-3"> CFU of 100 uL </tspan><tspan font-style="italic">A.h</tspan></text>
<line x1="95.7" y1="897.3" x2="95.7" y2="910.3" stroke="#9a9a9a" stroke-width="3.0" stroke-linecap="butt"/>
<line x1="92.10000000000001" y1="898.55" x2="99.3" y2="898.55" stroke="#9a9a9a" stroke-width="2.5" stroke-linecap="butt"/>
<line x1="92.10000000000001" y1="909.05" x2="99.3" y2="909.05" stroke="#9a9a9a" stroke-width="2.5" stroke-linecap="butt"/>
<line x1="141.3" y1="893.2" x2="141.3" y2="909.8" stroke="#9a9a9a" stroke-width="3.0" stroke-linecap="butt"/>
<line x1="137.70000000000002" y1="894.45" x2="144.9" y2="894.45" stroke="#9a9a9a" stroke-width="2.5" stroke-linecap="butt"/>
<line x1="137.70000000000002" y1="908.55" x2="144.9" y2="908.55" stroke="#9a9a9a" stroke-width="2.5" stroke-linecap="butt"/>
<line x1="186.9" y1="878.2" x2="186.9" y2="886.6" stroke="#9a9a9a" stroke-width="3.0" stroke-linecap="butt"/>
<line x1="183.3" y1="879.45" x2="190.5" y2="879.45" stroke="#9a9a9a" stroke-width="2.5" stroke-linecap="butt"/>
<line x1="183.3" y1="885.35" x2="190.5" y2="885.35" stroke="#9a9a9a" stroke-width="2.5" stroke-linecap="butt"/>
<line x1="232.5" y1="857.3" x2="232.5" y2="871.6" stroke="#9a9a9a" stroke-width="3.0" stroke-linecap="butt"/>
<line x1="228.9" y1="858.55" x2="236.1" y2="858.55" stroke="#9a9a9a" stroke-width="2.5" stroke-linecap="butt"/>
<line x1="228.9" y1="870.35" x2="236.1" y2="870.35" stroke="#9a9a9a" stroke-width="2.5" stroke-linecap="butt"/>
<line x1="278.1" y1="838.6" x2="278.1" y2="845.4" stroke="#9a9a9a" stroke-width="3.0" stroke-linecap="butt"/>
<line x1="274.5" y1="839.85" x2="281.70000000000005" y2="839.85" stroke="#9a9a9a" stroke-width="2.5" stroke-linecap="butt"/>
<line x1="274.5" y1="844.15" x2="281.70000000000005" y2="844.15" stroke="#9a9a9a" stroke-width="2.5" stroke-linecap="butt"/>
<line x1="323.7" y1="835.9" x2="323.7" y2="842.7" stroke="#9a9a9a" stroke-width="3.0" stroke-linecap="butt"/>
<line x1="320.09999999999997" y1="837.15" x2="327.3" y2="837.15" stroke="#9a9a9a" stroke-width="2.5" stroke-linecap="butt"/>
<line x1="320.09999999999997" y1="841.45" x2="327.3" y2="841.45" stroke="#9a9a9a" stroke-width="2.5" stroke-linecap="butt"/>
<polyline points="95.70,903.80 141.30,901.30 186.90,882.40 232.50,864.60 278.10,842.00 323.70,839.30" fill="none" stroke="#9a9a9a" stroke-width="2"/>
<rect x="92.10" y="900.20" width="7.20" height="7.20" fill="#9a9a9a"/>
<rect x="137.70" y="897.70" width="7.20" height="7.20" fill="#9a9a9a"/>
<rect x="183.30" y="878.80" width="7.20" height="7.20" fill="#9a9a9a"/>
<rect x="228.90" y="861.00" width="7.20" height="7.20" fill="#9a9a9a"/>
<rect x="274.50" y="838.40" width="7.20" height="7.20" fill="#9a9a9a"/>
<rect x="320.10" y="835.70" width="7.20" height="7.20" fill="#9a9a9a"/>
<line x1="95.7" y1="897.3" x2="95.7" y2="910.3" stroke="#666666" stroke-width="3.0" stroke-linecap="butt"/>
<line x1="92.10000000000001" y1="898.55" x2="99.3" y2="898.55" stroke="#666666" stroke-width="2.5" stroke-linecap="butt"/>
<line x1="92.10000000000001" y1="909.05" x2="99.3" y2="909.05" stroke="#666666" stroke-width="2.5" stroke-linecap="butt"/>
<line x1="141.3" y1="877.2" x2="141.3" y2="890.8" stroke="#666666" stroke-width="3.0" stroke-linecap="butt"/>
<line x1="137.70000000000002" y1="878.45" x2="144.9" y2="878.45" stroke="#666666" stroke-width="2.5" stroke-linecap="butt"/>
<line x1="137.70000000000002" y1="889.55" x2="144.9" y2="889.55" stroke="#666666" stroke-width="2.5" stroke-linecap="butt"/>
<line x1="186.9" y1="857.6" x2="186.9" y2="864.6" stroke="#666666" stroke-width="3.0" stroke-linecap="butt"/>
<line x1="183.3" y1="858.85" x2="190.5" y2="858.85" stroke="#666666" stroke-width="2.5" stroke-linecap="butt"/>
<line x1="183.3" y1="863.35" x2="190.5" y2="863.35" stroke="#666666" stroke-width="2.5" stroke-linecap="butt"/>
<line x1="232.5" y1="803.0" x2="232.5" y2="846.7" stroke="#666666" stroke-width="3.0" stroke-linecap="butt"/>
<line x1="228.9" y1="804.25" x2="236.1" y2="804.25" stroke="#666666" stroke-width="2.5" stroke-linecap="butt"/>
<line x1="228.9" y1="845.45" x2="236.1" y2="845.45" stroke="#666666" stroke-width="2.5" stroke-linecap="butt"/>
<line x1="278.1" y1="791.6" x2="278.1" y2="835.2" stroke="#666666" stroke-width="3.0" stroke-linecap="butt"/>
<line x1="274.5" y1="792.85" x2="281.70000000000005" y2="792.85" stroke="#666666" stroke-width="2.5" stroke-linecap="butt"/>
<line x1="274.5" y1="833.95" x2="281.70000000000005" y2="833.95" stroke="#666666" stroke-width="2.5" stroke-linecap="butt"/>
<line x1="323.7" y1="766.4" x2="323.7" y2="841.0" stroke="#666666" stroke-width="3.0" stroke-linecap="butt"/>
<line x1="320.09999999999997" y1="767.65" x2="327.3" y2="767.65" stroke="#666666" stroke-width="2.5" stroke-linecap="butt"/>
<line x1="320.09999999999997" y1="839.75" x2="327.3" y2="839.75" stroke="#666666" stroke-width="2.5" stroke-linecap="butt"/>
<polyline points="95.70,903.80 141.30,884.20 186.90,861.00 232.50,824.80 278.10,813.40 323.70,803.70" fill="none" stroke="#666666" stroke-width="2"/>
<polygon points="95.70,899.60 91.50,907.00 99.90,907.00" fill="#666666"/>
<polygon points="141.30,880.00 137.10,887.40 145.50,887.40" fill="#666666"/>
<polygon points="186.90,856.80 182.70,864.20 191.10,864.20" fill="#666666"/>
<polygon points="232.50,820.60 228.30,828.00 236.70,828.00" fill="#666666"/>
<polygon points="278.10,809.20 273.90,816.60 282.30,816.60" fill="#666666"/>
<polygon points="323.70,799.50 319.50,806.90 327.90,806.90" fill="#666666"/>
<line x1="95.7" y1="897.0" x2="95.7" y2="910.6" stroke="#000000" stroke-width="3.0" stroke-linecap="butt"/>
<line x1="92.10000000000001" y1="898.25" x2="99.3" y2="898.25" stroke="#000000" stroke-width="2.5" stroke-linecap="butt"/>
<line x1="92.10000000000001" y1="909.35" x2="99.3" y2="909.35" stroke="#000000" stroke-width="2.5" stroke-linecap="butt"/>
<line x1="141.3" y1="875.0" x2="141.3" y2="889.8" stroke="#000000" stroke-width="3.0" stroke-linecap="butt"/>
<line x1="137.70000000000002" y1="876.25" x2="144.9" y2="876.25" stroke="#000000" stroke-width="2.5" stroke-linecap="butt"/>
<line x1="137.70000000000002" y1="888.55" x2="144.9" y2="888.55" stroke="#000000" stroke-width="2.5" stroke-linecap="butt"/>
<line x1="186.9" y1="830.6" x2="186.9" y2="854.0" stroke="#000000" stroke-width="3.0" stroke-linecap="butt"/>
<line x1="183.3" y1="831.85" x2="190.5" y2="831.85" stroke="#000000" stroke-width="2.5" stroke-linecap="butt"/>
<line x1="183.3" y1="852.75" x2="190.5" y2="852.75" stroke="#000000" stroke-width="2.5" stroke-linecap="butt"/>
<line x1="232.5" y1="789.0" x2="232.5" y2="823.2" stroke="#000000" stroke-width="3.0" stroke-linecap="butt"/>
<line x1="228.9" y1="790.25" x2="236.1" y2="790.25" stroke="#000000" stroke-width="2.5" stroke-linecap="butt"/>
<line x1="228.9" y1="821.95" x2="236.1" y2="821.95" stroke="#000000" stroke-width="2.5" stroke-linecap="butt"/>
<line x1="278.1" y1="769.8" x2="278.1" y2="808.2" stroke="#000000" stroke-width="3.0" stroke-linecap="butt"/>
<line x1="274.5" y1="771.05" x2="281.70000000000005" y2="771.05" stroke="#000000" stroke-width="2.5" stroke-linecap="butt"/>
<line x1="274.5" y1="806.95" x2="281.70000000000005" y2="806.95" stroke="#000000" stroke-width="2.5" stroke-linecap="butt"/>
<line x1="323.7" y1="752.8" x2="323.7" y2="805.5" stroke="#000000" stroke-width="3.0" stroke-linecap="butt"/>
<line x1="320.09999999999997" y1="754.05" x2="327.3" y2="754.05" stroke="#000000" stroke-width="2.5" stroke-linecap="butt"/>
<line x1="320.09999999999997" y1="804.25" x2="327.3" y2="804.25" stroke="#000000" stroke-width="2.5" stroke-linecap="butt"/>
<polyline points="95.70,903.80 141.30,882.40 186.90,842.60 232.50,807.00 278.10,789.40 323.70,779.00" fill="none" stroke="#000000" stroke-width="2"/>
<circle cx="95.70" cy="903.80" r="3.70" fill="#000000"/>
<circle cx="141.30" cy="882.40" r="3.70" fill="#000000"/>
<circle cx="186.90" cy="842.60" r="3.70" fill="#000000"/>
<circle cx="232.50" cy="807.00" r="3.70" fill="#000000"/>
<circle cx="278.10" cy="789.40" r="3.70" fill="#000000"/>
<circle cx="323.70" cy="779.00" r="3.70" fill="#000000"/>
<line x1="82.6" y1="741.6" x2="101.6" y2="741.6" stroke="#686868" stroke-width="2" stroke-linecap="butt"/>
<polygon points="92.20,737.82 88.42,744.48 95.98,744.48" fill="#686868"/>
<text x="113.4" y="746.5"  font-size="15.8"  text-anchor="start" fill="#000" textLength="107.2" lengthAdjust="spacingAndGlyphs">Antibody treated</text>
<line x1="82.6" y1="764.8" x2="101.6" y2="764.8" stroke="#a4a4a4" stroke-width="2" stroke-linecap="butt"/>
<rect x="88.96" y="761.56" width="6.48" height="6.48" fill="#a4a4a4"/>
<text x="113.4" y="769.5"  font-size="15.8"  text-anchor="start" fill="#000" textLength="98.9" lengthAdjust="spacingAndGlyphs">CpG stimulated</text>
<line x1="82.6" y1="788.2" x2="101.6" y2="788.2" stroke="#000" stroke-width="2" stroke-linecap="butt"/>
<circle cx="92.20" cy="788.20" r="3.33" fill="#000"/>
<text x="113.4" y="792.6"  font-size="15.8"  text-anchor="start" fill="#000" textLength="46.0" lengthAdjust="spacingAndGlyphs">Control</text>
<line x1="398.6" y1="737.2" x2="398.6" y2="943.05" stroke="#000" stroke-width="1.5" stroke-linecap="butt"/>
<line x1="397.85" y1="942.3" x2="666.6" y2="942.3" stroke="#000" stroke-width="1.5" stroke-linecap="butt"/>
<line x1="393.6" y1="926.4" x2="398.6" y2="926.4" stroke="#000" stroke-width="1.5" stroke-linecap="butt"/>
<text x="392.0" y="931.6999999999999"  font-size="15.2" font-weight="bold" text-anchor="end" fill="#000" >0</text>
<line x1="396.1" y1="910.75" x2="398.6" y2="910.75" stroke="#000" stroke-width="1.2" stroke-linecap="butt"/>
<line x1="393.6" y1="895.1" x2="398.6" y2="895.1" stroke="#000" stroke-width="1.5" stroke-linecap="butt"/>
<text x="392.0" y="900.4"  font-size="15.2" font-weight="bold" text-anchor="end" fill="#000" >20</text>
<line x1="396.1" y1="879.4499999999999" x2="398.6" y2="879.4499999999999" stroke="#000" stroke-width="1.2" stroke-linecap="butt"/>
<line x1="393.6" y1="863.8" x2="398.6" y2="863.8" stroke="#000" stroke-width="1.5" stroke-linecap="butt"/>
<text x="392.0" y="869.0999999999999"  font-size="15.2" font-weight="bold" text-anchor="end" fill="#000" >40</text>
<line x1="396.1" y1="848.15" x2="398.6" y2="848.15" stroke="#000" stroke-width="1.2" stroke-linecap="butt"/>
<line x1="393.6" y1="832.5" x2="398.6" y2="832.5" stroke="#000" stroke-width="1.5" stroke-linecap="butt"/>
<text x="392.0" y="837.8"  font-size="15.2" font-weight="bold" text-anchor="end" fill="#000" >60</text>
<line x1="396.1" y1="816.85" x2="398.6" y2="816.85" stroke="#000" stroke-width="1.2" stroke-linecap="butt"/>
<line x1="393.6" y1="801.2" x2="398.6" y2="801.2" stroke="#000" stroke-width="1.5" stroke-linecap="butt"/>
<text x="392.0" y="806.5"  font-size="15.2" font-weight="bold" text-anchor="end" fill="#000" >80</text>
<line x1="396.1" y1="785.55" x2="398.6" y2="785.55" stroke="#000" stroke-width="1.2" stroke-linecap="butt"/>
<line x1="393.6" y1="769.9" x2="398.6" y2="769.9" stroke="#000" stroke-width="1.5" stroke-linecap="butt"/>
<text x="392.0" y="775.1999999999999"  font-size="15.2" font-weight="bold" text-anchor="end" fill="#000" >100</text>
<line x1="396.1" y1="754.25" x2="398.6" y2="754.25" stroke="#000" stroke-width="1.2" stroke-linecap="butt"/>
<line x1="393.6" y1="738.6" x2="398.6" y2="738.6" stroke="#000" stroke-width="1.5" stroke-linecap="butt"/>
<text x="392.0" y="743.9"  font-size="15.2" font-weight="bold" text-anchor="end" fill="#000" >120</text>
<line x1="421.2" y1="942.3" x2="421.2" y2="947.3" stroke="#000" stroke-width="1.5" stroke-linecap="butt"/>
<text x="421.2" y="960.6999999999999"  font-size="14.5" font-weight="bold" text-anchor="middle" fill="#000" >0</text>
<line x1="443.51" y1="942.3" x2="443.51" y2="945.3" stroke="#000" stroke-width="1.2" stroke-linecap="butt"/>
<line x1="465.82" y1="942.3" x2="465.82" y2="947.3" stroke="#000" stroke-width="1.5" stroke-linecap="butt"/>
<text x="465.82" y="960.6999999999999"  font-size="14.5" font-weight="bold" text-anchor="middle" fill="#000" >1</text>
<line x1="488.13" y1="942.3" x2="488.13" y2="945.3" stroke="#000" stroke-width="1.2" stroke-linecap="butt"/>
<line x1="510.44" y1="942.3" x2="510.44" y2="947.3" stroke="#000" stroke-width="1.5" stroke-linecap="butt"/>
<text x="510.44" y="960.6999999999999"  font-size="14.5" font-weight="bold" text-anchor="middle" fill="#000" >2</text>
<line x1="532.75" y1="942.3" x2="532.75" y2="945.3" stroke="#000" stroke-width="1.2" stroke-linecap="butt"/>
<line x1="555.06" y1="942.3" x2="555.06" y2="947.3" stroke="#000" stroke-width="1.5" stroke-linecap="butt"/>
<text x="555.06" y="960.6999999999999"  font-size="14.5" font-weight="bold" text-anchor="middle" fill="#000" >3</text>
<line x1="577.37" y1="942.3" x2="577.37" y2="945.3" stroke="#000" stroke-width="1.2" stroke-linecap="butt"/>
<line x1="599.68" y1="942.3" x2="599.68" y2="947.3" stroke="#000" stroke-width="1.5" stroke-linecap="butt"/>
<text x="599.68" y="960.6999999999999"  font-size="14.5" font-weight="bold" text-anchor="middle" fill="#000" >4</text>
<line x1="621.99" y1="942.3" x2="621.99" y2="945.3" stroke="#000" stroke-width="1.2" stroke-linecap="butt"/>
<line x1="644.3" y1="942.3" x2="644.3" y2="947.3" stroke="#000" stroke-width="1.5" stroke-linecap="butt"/>
<text x="644.3" y="960.6999999999999"  font-size="14.5" font-weight="bold" text-anchor="middle" fill="#000" >5</text>
<text x="533" y="981.7"  font-size="15" font-weight="bold" text-anchor="middle" fill="#000" >Time (day)</text>
<text x="0" y="0" transform="translate(365.7,850) rotate(-90)" font-size="16" font-weight="bold" text-anchor="middle" fill="#000" >Survival (%)</text>
<text x="407.4" y="930.0"  font-size="14.15"  text-anchor="start" fill="#000" ><tspan stroke="#000" stroke-width="0.35">P=0.03,</tspan> <tspan font-weight="bold">Breslow test</tspan></text>
<polyline fill="none" stroke="#4c4c4c" stroke-width="1.5" points="421.20,769.90 421.20,848.15 465.82,848.15 465.82,889.94 510.44,889.94 510.44,905.59 555.06,905.59 555.06,926.40 644.30,926.40"/>
<circle cx="421.20" cy="769.90" r="2.3" fill="#4c4c4c"/>
<circle cx="465.82" cy="848.15" r="2.3" fill="#4c4c4c"/>
<circle cx="510.44" cy="889.94" r="2.3" fill="#4c4c4c"/>
<circle cx="555.06" cy="905.59" r="2.3" fill="#4c4c4c"/>
<circle cx="599.68" cy="926.40" r="2.3" fill="#4c4c4c"/>
<circle cx="644.30" cy="926.40" r="2.3" fill="#4c4c4c"/>
<polyline fill="none" stroke="#2a2a2a" stroke-width="1.5" points="421.20,769.90 421.20,806.36 465.82,806.36 465.82,853.31 510.44,853.31 510.44,884.61 555.06,884.61 555.06,910.75 599.68,910.75 599.68,915.91 644.30,915.91"/>
<polygon points="465.82,802.96 463.02,807.96 468.62,807.96" fill="#000"/>
<polygon points="510.44,849.91 507.64,854.91 513.24,854.91" fill="#000"/>
<polygon points="555.06,881.21 552.26,886.21 557.86,886.21" fill="#000"/>
<polygon points="599.68,907.35 596.88,912.35 602.48,912.35" fill="#000"/>
<polygon points="644.30,912.51 641.50,917.51 647.10,917.51" fill="#000"/>
<line x1="421.2" y1="769.9" x2="644.3" y2="769.9" stroke="#000" stroke-width="1.8" stroke-linecap="butt"/>
<rect x="419.10" y="767.80" width="4.2" height="4.2" fill="#000"/>
<rect x="463.72" y="767.80" width="4.2" height="4.2" fill="#000"/>
<rect x="508.34" y="767.80" width="4.2" height="4.2" fill="#000"/>
<rect x="552.96" y="767.80" width="4.2" height="4.2" fill="#000"/>
<rect x="597.58" y="767.80" width="4.2" height="4.2" fill="#000"/>
<rect x="642.20" y="767.80" width="4.2" height="4.2" fill="#000"/>
<rect x="564.3" y="776.8" width="105.3" height="60.3" fill="#fff" stroke="#808080" stroke-width="1"/>
<line x1="570.2" y1="788.7" x2="604.8" y2="788.7" stroke="#000" stroke-width="2" stroke-linecap="butt"/>
<rect x="584.9" y="786.6" width="4.2" height="4.2" fill="#000"/>
<line x1="570.2" y1="808.6" x2="604.8" y2="808.6" stroke="#4c4c4c" stroke-width="1.8" stroke-linecap="butt"/>
<circle cx="587" cy="808.6" r="2.4" fill="#4c4c4c"/>
<line x1="570.2" y1="828.3" x2="604.8" y2="828.3" stroke="#2a2a2a" stroke-width="1.7" stroke-linecap="butt"/>
<polygon points="587,824.6 584.0,829.9 590.0,829.9" fill="#000"/>
<text x="609.4" y="793.9"  font-size="15.3"  text-anchor="start" fill="#000" >Mock</text>
<text x="609.4" y="813.5"  font-size="15.3"  text-anchor="start" fill="#000" >Control</text>
<text x="609.4" y="832.8"  font-size="15.3"  text-anchor="start" fill="#000" >ODN-C4</text>
</svg>
</body></html>
